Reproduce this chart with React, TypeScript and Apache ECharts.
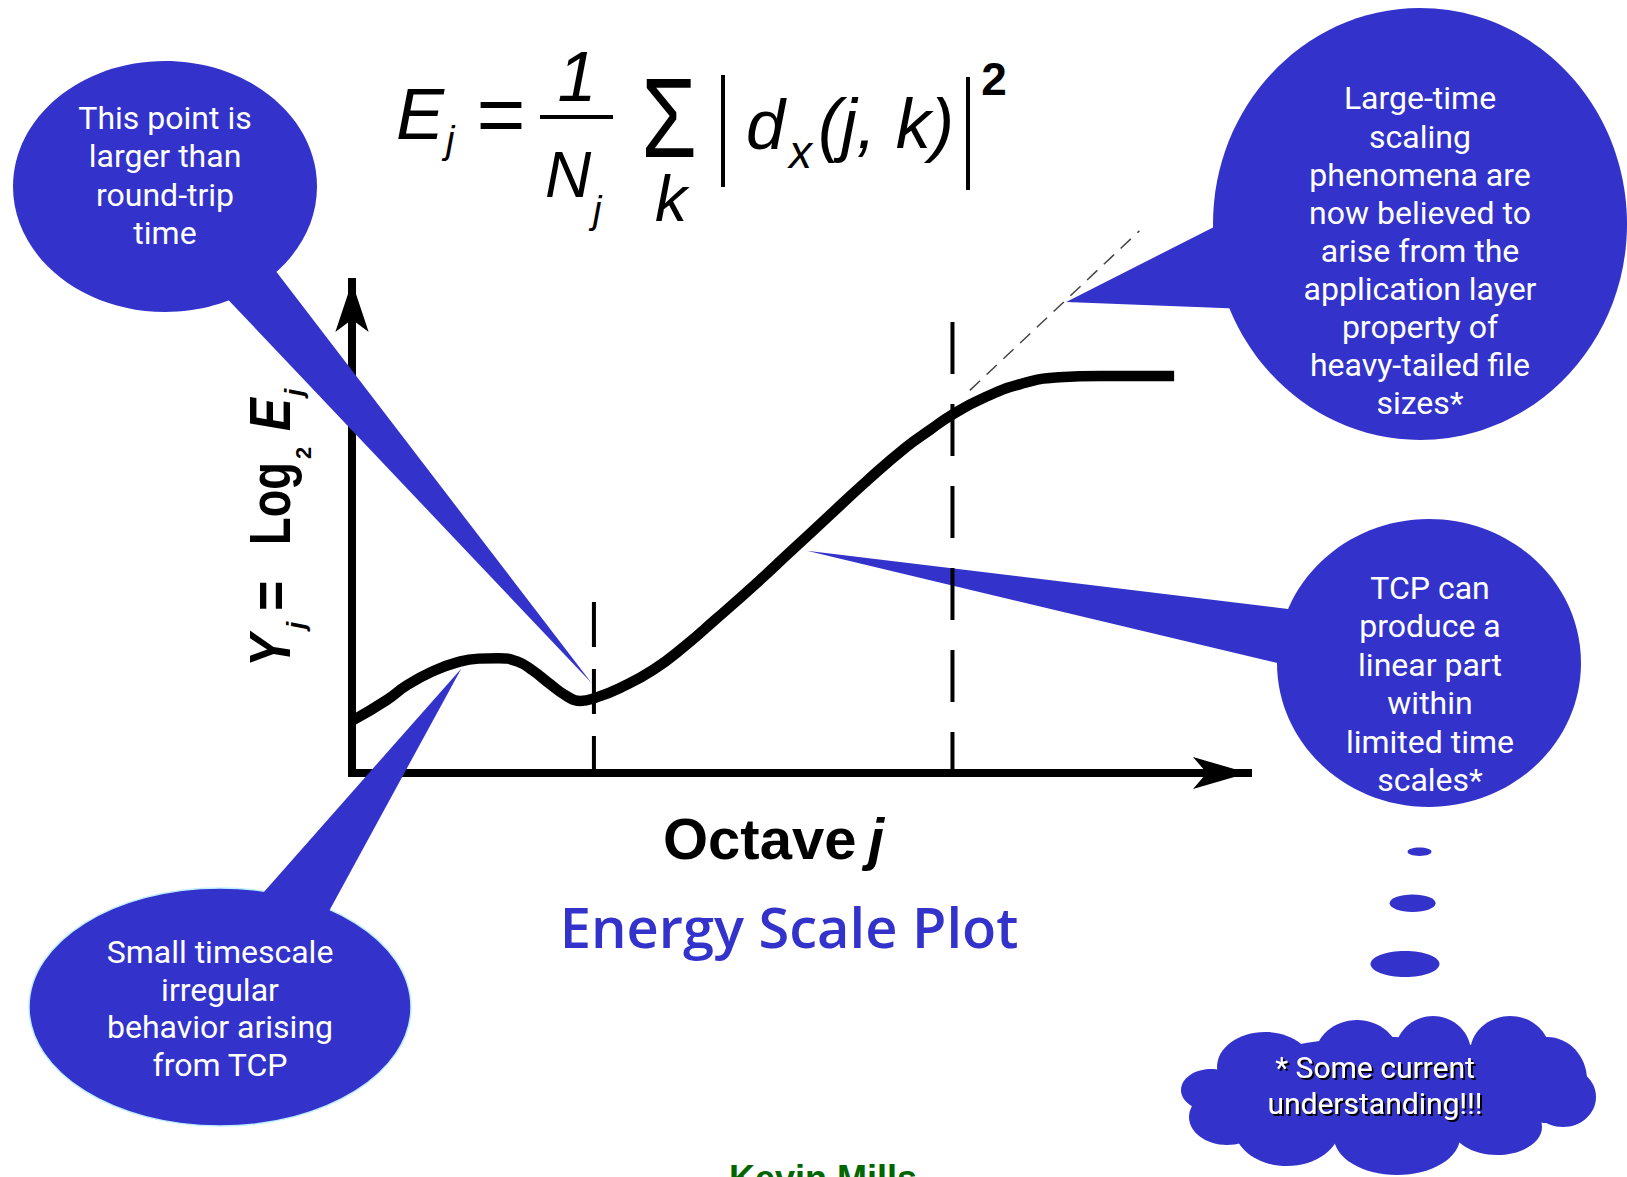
import React, { useEffect, useRef } from "react";
import * as echarts from "echarts";

// ---------- data (octave j on x, Yj = log2 Ej on y) ----------
const curveX = [0.02, 0.48, 0.76, 1.12, 1.45, 1.75, 2.02, 2.28, 2.5, 2.72, 2.96, 3.15, 3.38, 3.7, 4.16, 4.61, 5.01, 5.54, 6.06, 6.6, 7.12, 7.65, 7.98, 8.28, 8.71, 9.24, 9.76, 10.33, 11.35];
const curveY = [1.14, 1.57, 1.89, 2.19, 2.38, 2.46, 2.47, 2.4, 2.2, 1.93, 1.66, 1.55, 1.63, 1.83, 2.22, 2.75, 3.29, 4.02, 4.77, 5.55, 6.3, 7.01, 7.38, 7.7, 8.06, 8.37, 8.51, 8.54, 8.54];

// vertical dashed markers: [x, top]
const markerSmall = [3.34, 3.68];
const markerLarge = [8.29, 9.7];
// dashed asymptote of the linear part
const asymptoteX = [8.53, 10.87];
const asymptoteY = [8.23, 11.66];

// callout targets (data coordinates)
const tipRtt = [3.31, 1.93];
const tipSmall = [1.51, 2.25];
const tipTcp = [6.28, 4.78];
const tipLarge = [9.86, 10.13];

const textRtt = ["This point is", "larger than", "round-trip", "time"];
const textSmall = ["Small timescale", "irregular", "behavior arising", "from TCP"];
const textLarge = ["Large-time", "scaling", "phenomena are", "now believed to", "arise from the", "application layer", "property of", "heavy-tailed file", "sizes*"];
const textTcp = ["TCP can", "produce a", "linear part", "within", "limited time", "scales*"];
const textCloud = ["* Some current", "understanding!!!"];

const titleText = "Energy Scale Plot";
const xLabelText = "Octave";
const authorText = "Kevin Mills";

const BLUE = "#3333cc";
const SANS = '"Liberation Sans", Arial, sans-serif';
const CALLOUT = 'Roboto, "Liberation Sans", sans-serif';
const TITLE = '"Open Sans", "Noto Sans", sans-serif';

export default function App() {
  const ref = useRef<HTMLDivElement>(null);

  useEffect(() => {
    if (!ref.current) return;
    const chart = echarts.init(ref.current, null, { renderer: "svg" });
    const axisCommon = {
      type: "value",
      axisTick: { show: false },
      axisLabel: { show: false },
      splitLine: { show: false },
    };
    chart.setOption({
      animation: false,
      backgroundColor: "#ffffff",
      grid: { left: 352, top: 282, width: 896, height: 491, containLabel: false },
      xAxis: {
        ...axisCommon,
        min: 0,
        max: 12.37,
        axisLine: {
          show: true,
          onZero: false,
          symbol: ["none", "arrow"],
          symbolSize: [24, 55],
          lineStyle: { color: "#000", width: 8, cap: "square" },
        },
      },
      yAxis: {
        ...axisCommon,
        min: 0,
        max: 10.56,
        axisLine: {
          show: true,
          onZero: false,
          symbol: ["none", "arrow"],
          symbolSize: [25, 50],
          lineStyle: { color: "#000", width: 8, cap: "square" },
        },
      },
      series: [
        {
          type: "line",
          data: curveX.map((x, i) => [x, curveY[i]]),
          smooth: 0.5,
          symbol: "none",
          lineStyle: { color: "#000", width: 10.5, join: "round" },
          z: 3,
          clip: false,
        },
        {
          type: "line",
          data: [[markerSmall[0], markerSmall[1]], [markerSmall[0], 0]],
          symbol: "none",
          lineStyle: { color: "#000", width: 4, type: [45, 22] },
          z: 2,
          clip: false,
        },
        {
          type: "line",
          data: [[markerLarge[0], markerLarge[1]], [markerLarge[0], 0]],
          symbol: "none",
          lineStyle: { color: "#000", width: 4, type: [52, 30] },
          z: 2,
          clip: false,
        },
        {
          type: "line",
          data: asymptoteX.map((x, i) => [x, asymptoteY[i]]),
          symbol: "none",
          lineStyle: { color: "#444", width: 1.5, type: [14, 9] },
          z: 2,
          clip: false,
        },
      ],
    });

    const px = (p: number[]) => chart.convertToPixel({ gridIndex: 0 }, p) as number[];
    const extend = (tip: number[], base: number[], f: number) => [
      tip[0] + f * (base[0] - tip[0]),
      tip[1] + f * (base[1] - tip[1]),
    ];

    const rtt = px(tipRtt);
    const small = px(tipSmall);
    const tcp = px(tipTcp);
    const large = px(tipLarge);

    const calloutText = (lines: string[], x: number, y: number, lh: number, size = 32) => ({
      type: "text",
      x,
      y,
      z: 12,
      style: {
        text: lines.join("\n"),
        fill: "#ffffff",
        font: `${size}px ${CALLOUT}`,
        align: "center",
        verticalAlign: "middle",
        lineHeight: lh,
      },
    });

    const t = (text: string, x: number, y: number, font: string, align = "left", fill = "#000") => ({
      type: "text",
      x,
      y,
      z: 12,
      style: { text, x: 0, y: 0, font, fill, align, verticalAlign: "middle" },
    });

    const blueEllipse = (cx: number, cy: number, rx: number, ry: number, z = 10, stroke?: string) => ({
      type: "ellipse",
      z,
      shape: { cx, cy, rx, ry },
      style: stroke ? { fill: BLUE, stroke, lineWidth: 1.5 } : { fill: BLUE },
    });
    const tail = (tip: number[], b1: number[], b2: number[], f: number, z = 10) => ({
      type: "polygon",
      z,
      shape: { points: [tip, extend(tip, b1, f), extend(tip, b2, f)] },
      style: { fill: BLUE },
    });

    const cloud = [
      [1383, 1090, 167, 53],
      [1265, 1067, 48, 35],
      [1357, 1057, 42, 37],
      [1433, 1053, 38, 37],
      [1510, 1053, 40, 37],
      [1547, 1080, 40, 43],
      [1563, 1097, 33, 30],
      [1497, 1127, 45, 28],
      [1397, 1137, 63, 38],
      [1287, 1127, 53, 39],
      [1227, 1117, 38, 28],
      [1211, 1090, 30, 21],
    ];

    const ytxt = (text: string, x: number, y: number, font: string, sx = 1) => ({
      type: "text",
      x,
      y,
      scaleX: sx,
      z: 12,
      style: { text, font, fill: "#000", align: "left", verticalAlign: "middle" },
    });

    const elements: any[] = [
      // formula
      t("E", 396, 114, `italic 72px ${SANS}`),
      t("j", 446, 140, `italic 38px ${SANS}`),
      t("=", 501, 114, `84px ${SANS}`, "center"),
      t("1", 577, 77, `italic 70px ${SANS}`, "center"),
      { type: "rect", z: 12, shape: { x: 540, y: 115, width: 73, height: 4 }, style: { fill: "#000" } },
      t("N", 545, 175, `italic 64px ${SANS}`),
      t("j", 593, 210, `italic 38px ${SANS}`),
      { type: "text", x: 669, y: 118, scaleY: 1.25, z: 12, style: { text: "\u03A3", font: `90px ${SANS}`, fill: "#000", align: "center", verticalAlign: "middle" } },
      t("k", 671, 199, `italic 64px ${SANS}`, "center"),
      { type: "rect", z: 12, shape: { x: 721, y: 75, width: 4, height: 112 }, style: { fill: "#000" } },
      t("d", 746, 125, `italic 70px ${SANS}`),
      t("x", 789, 152, `italic 46px ${SANS}`),
      t("(j, k)", 818, 124, `italic 70px ${SANS}`),
      { type: "rect", z: 12, shape: { x: 966, y: 77, width: 4, height: 113 }, style: { fill: "#000" } },
      t("2", 994, 79, `bold 46px ${SANS}`, "center"),

      // y-axis label (rotated)
      {
        type: "group",
        x: 270,
        y: 525,
        rotation: Math.PI / 2,
        z: 12,
        children: [
          ytxt("Y", -142, 0, `italic bold 58px ${SANS}`, 0.85),
          ytxt("j", -104, 26, `italic bold 26px ${SANS}`),
          ytxt("=", -86, 0, `bold 58px ${SANS}`, 0.9),
          ytxt("Log", -20, 0, `bold 58px ${SANS}`, 0.78),
          ytxt("2", 66, 33, `bold 22px ${SANS}`),
          ytxt("E", 94, 0, `italic bold 58px ${SANS}`, 0.85),
          ytxt("j", 129, 24, `italic bold 26px ${SANS}`),
        ],
      },

      // x-axis label, title, author
      t(xLabelText, 663, 838, `bold 58px ${SANS}`),
      t("j", 868, 838, `italic bold 58px ${SANS}`),
      t(titleText, 789, 926, `600 56px ${TITLE}`, "center", BLUE),
      t(authorText, 823, 1178, `bold 36px ${SANS}`, "center", "#006600"),

      // callout: round-trip time
      tail(rtt, [275, 270], [230, 301.7], 1.08),
      blueEllipse(165, 186.5, 152, 125.5),
      calloutText(textRtt, 165, 175.5, 38.3),

      // callout: small timescale
      blueEllipse(220, 1007, 191, 119, 10, "#bfefff"),
      tail(small, [265, 890.7], [330, 909.3], 1.1),
      calloutText(textSmall, 220, 1008.5, 37.8),

      // callout: large-time scaling
      tail(large, [1212.7, 227.6], [1229.6, 308.4], 1.15),
      blueEllipse(1420, 224, 207, 216),
      calloutText(textLarge, 1420, 250.8, 38.1),

      // callout: TCP linear part
      tail(tcp, [1288, 609], [1277, 663], 1.05, 1),
      blueEllipse(1429, 663, 152, 144),
      calloutText(textTcp, 1430, 684, 38.4),

      // thought bubbles
      blueEllipse(1419.5, 851.7, 12, 4.2),
      blueEllipse(1412.6, 903.3, 23, 8.7),
      blueEllipse(1405, 964, 34.5, 13),
      ...cloud.map((c) => blueEllipse(c[0], c[1], c[2], c[3])),
      {
        type: "text",
        x: 1375,
        y: 1085.5,
        z: 12,
        style: {
          text: textCloud.join("\n"),
          fill: "#ffffff",
          font: `30px ${CALLOUT}`,
          align: "center",
          verticalAlign: "middle",
          lineHeight: 36,
          textShadowColor: "#000000",
          textShadowOffsetX: 2,
          textShadowOffsetY: 2,
          textShadowBlur: 1,
        },
      },
    ];

    chart.setOption({ graphic: { elements } });

    return () => chart.dispose();
  }, []);

  return (
    <div
      ref={ref}
      style={{ position: "absolute", left: 0, top: 0, width: 1627, height: 1177 }}
    />
  );
}
